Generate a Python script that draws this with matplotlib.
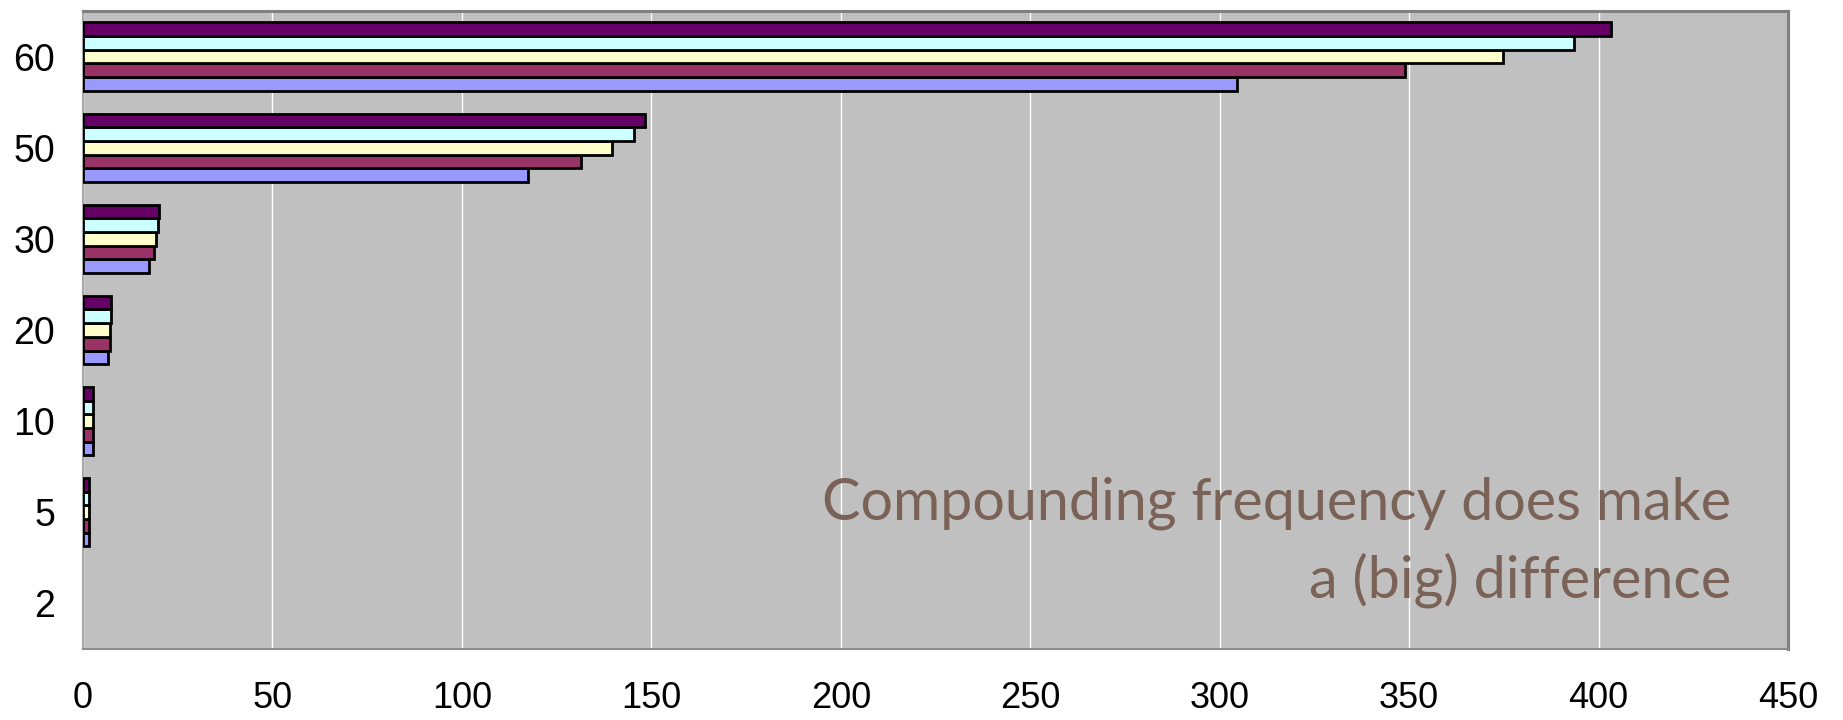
import matplotlib
matplotlib.use('Agg')
import matplotlib.pyplot as plt
import numpy as np

categories = ['2', '5', '10', '20', '30', '50', '60']
annual = [np.nan, 1.61, 2.59, 6.73, 17.45, 117.4, 304.5]
semiannual = [np.nan, 1.63, 2.65, 7.04, 18.68, 131.5, 348.9]
quarterly = [np.nan, 1.64, 2.69, 7.21, 19.22, 139.6, 374.9]
monthly = [np.nan, 1.65, 2.71, 7.33, 19.84, 145.4, 393.6]
continuous = [np.nan, 1.65, 2.72, 7.39, 20.09, 148.4, 403.4]
series = [annual, semiannual, quarterly, monthly, continuous]
colors = ['#9999FF', '#993366', '#FFFFCC', '#CCFFFF', '#660066']
xticks = [0, 50, 100, 150, 200, 250, 300, 350, 400, 450]

W, H = 1843, 720
fig = plt.figure(figsize=(W / 100, H / 100), dpi=100)
fig.patch.set_facecolor('white')
ax = fig.add_axes([83 / W, 1 - 649 / H, (1788 - 83) / W, (649 - 11) / H])
ax.set_facecolor('#C0C0C0')

n = len(series)
group = 0.75
bh = group / n
y = np.arange(len(categories))
for i, (vals, c) in enumerate(zip(series, colors)):
    v = np.array(vals, dtype=float)
    mask = ~np.isnan(v)
    off = -group / 2 + bh * (i + 0.5)
    ax.barh(y[mask] + off, v[mask], height=bh, color=c, edgecolor='black',
            linewidth=2.0, zorder=3)

ax.set_xlim(0, 450)
ax.set_ylim(-0.5, len(categories) - 0.5)
ax.set_xticks(xticks)
ax.set_xticklabels([str(t) for t in xticks])
ax.set_yticks(y)
ax.set_yticklabels(categories)
ax.xaxis.grid(True, color='white', linewidth=1.0, zorder=1)
ax.set_axisbelow(True)
ax.tick_params(axis='x', length=0, pad=23, labelsize=26)
ax.tick_params(axis='y', length=0, pad=20, labelsize=27)
for lab in ax.get_xticklabels() + ax.get_yticklabels():
    lab.set_fontfamily(['Liberation Sans', 'DejaVu Sans'])

for s in ['top', 'right']:
    ax.spines[s].set_color('#808080')
    ax.spines[s].set_linewidth(2.2)
ax.spines['bottom'].set_color('#8C8C8C')
ax.spines['bottom'].set_linewidth(1.5)
ax.spines['left'].set_color('#A8A8A8')
ax.spines['left'].set_linewidth(1.5)

tcolor = '#7A6257'
fs = 43
t1 = fig.text(1731 / W, 1 - 520 / H, 'Compounding frequency does make', ha='right',
              va='baseline', fontsize=fs, color=tcolor, family=['Lato', 'DejaVu Sans'])
fig.canvas.draw()
wpx = t1.get_window_extent().width
fs = fs * 912 / wpx
t1.set_fontsize(fs)
fig.text(1731 / W, 1 - 598 / H, 'a (big) difference', ha='right', va='baseline',
         fontsize=fs, color=tcolor, family=['Lato', 'DejaVu Sans'])

fig.savefig('out.png', dpi=100)
